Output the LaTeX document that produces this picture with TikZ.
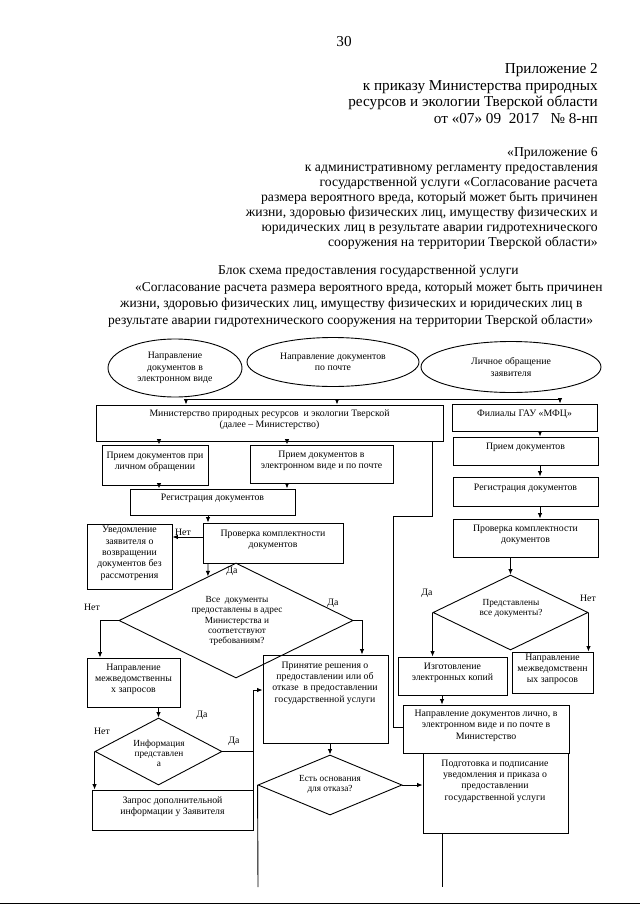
\documentclass[tikz,border=0pt]{standalone}
\usepackage{fontspec}
\setmainfont{Liberation Serif}
\usetikzlibrary{arrows.meta,shapes.geometric,fit,calc}
\newcommand{\hfnt}{\fontsize{15.2}{16.7}\selectfont}
\newcommand{\kfnt}{\fontsize{13.7}{15}\selectfont}
\newcommand{\tfnt}{\fontsize{13.5}{16.7}\selectfont}
\newcommand{\bfnt}{\fontsize{9.8}{11.4}\selectfont}
\newcommand{\dfnt}{\fontsize{9.3}{10.2}\selectfont}
\newcommand{\mybox}[6]{\node[bx,fit={(#2,#3) (#4,#5)}] (#1) {#6};}
\begin{document}
\begin{tikzpicture}[x=1pt,y=-1pt,
  ln/.style={line width=0.9pt},
  arr/.style={line width=0.9pt,-{Latex[length=5.5pt,width=4.5pt]}},
  bx/.style={draw,line width=0.9pt,inner sep=0pt,align=center,font=\bfnt},
  el/.style={draw,ellipse,line width=0.9pt,inner sep=0pt,align=center,font=\bfnt},
  dm/.style={draw,diamond,line width=0.9pt,inner sep=0pt},
  tx/.style={inner sep=0pt,align=center,font=\bfnt},
  dtx/.style={inner sep=0pt,align=center,font=\dfnt},
  lb/.style={inner sep=0pt,font=\bfnt},
  hd/.style={inner sep=0pt,font=\hfnt,anchor=mid east},
  kd/.style={inner sep=0pt,font=\kfnt,anchor=mid east},
  tl/.style={inner sep=0pt,font=\tfnt,anchor=mid west}]
\useasboundingbox[fill=white] (0,0) rectangle (640,905);

% header
\node[inner sep=0pt,font=\hfnt] (pg) at (344,42) {30};
\node[hd] (h1) at (598,71) {Приложение 2};
\node[hd] (h2) at (598,88) {к приказу Министерства природных};
\node[hd] (h3) at (598,104) {ресурсов и экологии Тверской области};
\node[hd] (h4) at (598,121) {от «07» 09\ \ 2017\ \ \ № 8-нп};

\node[kd] (k1) at (598,154) {«Приложение 6};
\node[kd] (k2) at (598,169) {к административному регламенту предоставления};
\node[kd] (k3) at (598,184) {государственной услуги «Согласование расчета};
\node[kd] (k4) at (598,199) {размера вероятного вреда, который может быть причинен};
\node[kd] (k5) at (598,214) {жизни, здоровью физических лиц, имуществу физических и};
\node[kd] (k6) at (598,229) {юридических лиц в результате аварии гидротехнического};
\node[kd] (k7) at (598,244) {сооружения на территории Тверской области»};

\node[tl] (t1) at (218,272) {Блок схема предоставления государственной услуги};
\node[tl] (t2) at (135,289) {«Согласование расчета размера вероятного вреда, который может быть причинен};
\node[tl] (t3) at (120,305) {жизни, здоровью физических лиц, имуществу физических и юридических лиц в};
\node[tl] (t4) at (108,322) {результате аварии гидротехнического сооружения на территории Тверской области»};

% ellipses
\node[el,minimum width=134,minimum height=58] (e1) at (175,368) {Направление\\документов в\\электронном виде};
\node[el,minimum width=172,minimum height=49] (e2) at (333,362) {Направление документов\\по почте};
\node[el,minimum width=180,minimum height=51] (e3) at (511,367) {Личное обращение\\заявителя};

% boxes
\mybox{mins}{96}{405}{443}{441}{Министерство природных ресурсов\ \ и экологии Тверской\\(далее – Министерство)}
\mybox{mfc}{452}{404}{597}{431}{Филиалы ГАУ «МФЦ»}
\mybox{pr2}{453}{437}{598}{465}{Прием документов}
\mybox{rg2}{453}{477}{598}{506}{Регистрация документов}
\mybox{pv2}{453}{519}{598}{557}{Проверка комплектности\\документов}
\mybox{prl}{102}{445}{208}{485}{Прием документов при\\личном обращении}
\mybox{pre}{250}{445}{393}{483}{Прием документов в\\электронном виде и по почте}
\mybox{rg1}{130}{489}{295}{515}{Регистрация документов}
\mybox{pv1}{203}{523}{343}{563}{Проверка комплектности\\документов}
\mybox{uv}{87}{524}{172}{589}{Уведомление\\заявителя о\\возвращении\\документов без\\рассмотрения}
\mybox{nm1}{87}{658}{180}{707}{Направление\\межведомственны\\х запросов}
\mybox{prn}{263}{655}{388}{743}{}
\node[tx] (prnt) at (325,683) {Принятие решения о\\предоставлении или об\\отказе\ \ в предоставлении\\государственной услуги};
\mybox{zap}{92}{790}{253}{830}{Запрос дополнительной\\информации у Заявителя}
\mybox{izg}{398}{657}{507}{695}{Изготовление\\электронных копий}
\mybox{nm2}{512}{652}{593}{693}{Направление\\межведомственн\\ых запросов}
\mybox{nlc}{403}{705}{569}{753}{Направление документов лично, в\\электронном виде и по почте в\\Министерство}
\mybox{pod}{423}{753}{568}{833}{}
\node[tx] (podt) at (495,781) {Подготовка и подписание\\уведомления и приказа о\\предоставлении\\государственной услуги};

% diamonds
\node[dm,minimum width=234,minimum height=115] (d1) at (236,620.5) {};
\node[dtx] (d1t) at (237,621) {Все\ \ документы\\предоставлены в адрес\\Министерства и\\соответствуют\\требованиям?};
\node[dm,minimum width=127,minimum height=67] (d2) at (158.5,751.5) {};
\node[dtx] (d2t) at (159,753.5) {Информация\\представлен\\а};
\node[dm,minimum width=144,minimum height=60] (d3) at (330,785) {};
\node[dtx] (d3t) at (330,784.5) {Есть основания\\для отказа?};
\node[dm,minimum width=155,minimum height=75] (d4) at (510.5,612.5) {};
\node[dtx] (d4t) at (511,608.5) {Представлены\\все документы?};

% guide coordinates
\coordinate (j1) at (186,399);
\coordinate (j2) at (337,399);
\coordinate (j3) at (560,399);
\coordinate (gA) at (159,0);
\coordinate (gB) at (287,0);
\coordinate (gC) at (208,0);
\coordinate (gD) at (540,0);
\coordinate (gF) at (100,0);
\coordinate (gG) at (362,0);
\coordinate (gN) at (0,537);
\coordinate (gH) at (0,690);
\coordinate (m1) at (432,516);
\coordinate (m2) at (393,516);
\coordinate (m3) at (393,727);
\coordinate (endA) at (258,887);
\coordinate (endB) at (442,887);

% connectors
\draw[ln] (j1) -- (j3);
\draw[arr] (j1) -- (j1 |- mins.north);
\draw[arr] (j2) -- (j2 |- mins.north);
\draw[arr] (j3) -- (j3 |- mfc.north);
\draw[arr] (mins.south -| gA) -- (prl.north -| gA);
\draw[arr] (mins.south -| gB) -- (pre.north -| gB);
\draw[arr] (prl.south -| gA) -- (rg1.north -| gA);
\draw[arr] (pre.south -| gB) -- (rg1.north -| gB);
\draw[arr] (rg1.south -| gC) -- (pv1.north -| gC);
\draw[arr] (pv1.west |- gN) -- (uv.east |- gN);
\draw[arr] (pv1.south -| gC) -- ($(d1.north)!0.239!(d1.west)$);
\draw[arr] (d1.west) -| (nm1.north -| gF);
\draw[arr] (d1.east) -| (prn.north -| gG);
\draw[arr] (nm1.south -| d2.north) -- (d2.north);
\draw[arr] (d2.west) -- (d2.west |- zap.north);
\draw[ln] (d2.east) -- (d2.east -| zap.east);
\draw[arr] (zap.north east) -- (zap.east |- gH) -- (prn.west |- gH);
\draw[arr] (prn.south -| d3.north) -- (d3.north);
\draw[arr] (d3.east) -- (pod.west |- d3.east);
\draw[ln] (d3.west) -- (endA);
\draw[ln] (pod.south -| endB) -- (endB);
\draw[ln] (mins.south -| m1) -- (m1) -- (m2) -- (m3) -- (nlc.west |- m3);
\draw[arr] (mfc.south -| gD) -- (pr2.north -| gD);
\draw[arr] (pr2.south -| gD) -- (rg2.north -| gD);
\draw[arr] (rg2.south -| gD) -- (pv2.north -| gD);
\draw[arr] (pv2.south -| d4.north) -- (d4.north);
\draw[arr] (d4.west) -- (d4.west |- izg.north);
\draw[arr] (d4.east) -- (d4.east |- nm2.north);
\draw[arr] (izg.south -| endB) -- (nlc.north -| endB);

% labels
\node[lb] (l1) at (183,532) {Нет};
\node[lb] (l2) at (232,571) {Да};
\node[lb] (l3) at (92,607) {Нет};
\node[lb] (l4) at (333,603) {Да};
\node[lb] (l5) at (202,715) {Да};
\node[lb] (l6) at (102,731) {Нет};
\node[lb] (l7) at (234,741) {Да};
\node[lb] (l8) at (427,593) {Да};
\node[lb] (l9) at (588,598) {Нет};

% page bottom edge
\draw[line width=1.5pt] (0,903.5) -- (640,903.5);
\end{tikzpicture}
\end{document}
